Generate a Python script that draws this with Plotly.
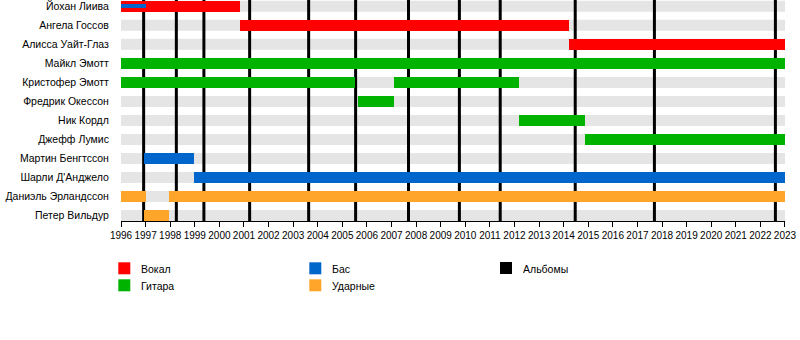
import plotly.graph_objects as go

# ---- data ----
members = ["Йохан Лиива", "Ангела Госсов", "Алисса Уайт-Глаз", "Майкл Эмотт",
           "Кристофер Эмотт", "Фредрик Окессон", "Ник Кордл", "Джефф Лумис",
           "Мартин Бенгтссон", "Шарли Д'Анджело", "Даниэль Эрландссон", "Петер Вильдур"]

roles = ["Вокал", "Гитара", "Бас", "Ударные"]
role_colors = ["#ff0000", "#00b300", "#0066cc", "#ffa52a"]

seg_member = ["Йохан Лиива", "Ангела Госсов", "Алисса Уайт-Глаз", "Майкл Эмотт",
              "Кристофер Эмотт", "Кристофер Эмотт", "Фредрик Окессон", "Ник Кордл",
              "Джефф Лумис", "Мартин Бенгтссон", "Шарли Д'Анджело",
              "Даниэль Эрландссон", "Даниэль Эрландссон", "Петер Вильдур"]
seg_role = ["Вокал", "Вокал", "Вокал", "Гитара",
            "Гитара", "Гитара", "Гитара", "Гитара",
            "Гитара", "Бас", "Бас",
            "Ударные", "Ударные", "Ударные"]
seg_start = [1996.0, 2000.85, 2014.22, 1996.0,
             1996.0, 2007.11, 2005.65, 2012.19,
             2014.87, 1996.95, 1998.98,
             1996.0, 1997.96, 1996.95]
seg_end = [2000.85, 2014.22, 2023.0, 2023.0,
           2005.52, 2012.19, 2007.11, 2014.87,
           2023.0, 1998.98, 2023.0,
           1997.0, 2023.0, 1997.96]

# secondary (thin) bars
thin_member = ["Йохан Лиива"]
thin_role = ["Бас"]
thin_start = [1996.0]
thin_end = [1997.0]

album_dates = [1996.92, 1998.25, 1999.37, 2001.23, 2003.63, 2005.54,
               2007.69, 2009.76, 2011.42, 2014.47, 2017.69, 2022.61]
album_label = "Альбомы"

year_start, year_end = 1996, 2023
tick_years = list(range(year_start, year_end + 1))

# ---- figure ----
FONT = "Liberation Sans, Arial, sans-serif"
row_of = {m: i for i, m in enumerate(members)}
bar_w = 0.578
thin_w = 0.21
row_px0, row_step, plot_h = 6.3, 19.02, 221
y_bottom = (plot_h - row_px0) / row_step
y_top = -row_px0 / row_step

fig = go.Figure()

for role, col in zip(roles, role_colors):
    idx = [k for k, r in enumerate(seg_role) if r == role]
    if idx:
        fig.add_trace(go.Bar(
            y=[row_of[seg_member[k]] for k in idx],
            x=[seg_end[k] - seg_start[k] for k in idx],
            base=[seg_start[k] for k in idx],
            orientation="h", width=bar_w,
            marker=dict(color=col, line=dict(width=0)),
            name=role, showlegend=False))

for k in range(len(thin_member)):
    col = role_colors[roles.index(thin_role[k])]
    fig.add_trace(go.Bar(
        y=[row_of[thin_member[k]]], x=[thin_end[k] - thin_start[k]],
        base=[thin_start[k]], orientation="h", width=thin_w,
        marker=dict(color=col, line=dict(width=0)),
        name=thin_role[k], showlegend=False))

shapes = []
for i in range(len(members)):
    shapes.append(dict(type="rect", xref="x", yref="y", x0=year_start, x1=year_end,
                       y0=i - bar_w / 2, y1=i + bar_w / 2, fillcolor="#e5e5e5",
                       line=dict(width=0), layer="below"))
for d in album_dates:
    shapes.append(dict(type="line", xref="x", yref="y", x0=d, x1=d,
                       y0=y_top, y1=y_bottom,
                       line=dict(color="black", width=3), layer="below"))

# custom legend
legend_items = [(r, c) for r, c in zip(roles, role_colors)] + [(album_label, "#000000")]
legend_pos = [(118.3, 262.3), (118.3, 279.3), (309.3, 262.3), (309.3, 279.3), (500, 262)]
W, H = 800, 340
annotations = []
for (lab, col), (px, py) in zip(legend_items, legend_pos):
    shapes.append(dict(type="rect", xref="paper", yref="paper",
                       x0=(px - 121) / 664, x1=(px + 12 - 121) / 664,
                       y0=(221 - py) / 221, y1=(221 - py - 12) / 221,
                       fillcolor=col, line=dict(width=0)))
    annotations.append(dict(xref="paper", yref="paper", x=(px + 20.5 - 121) / 664,
                            y=(221 - py - 6.5) / 221, text=lab, showarrow=False,
                            xanchor="left", yanchor="middle",
                            font=dict(size=10.5, color="black", family=FONT)))

fig.update_layout(
    width=W, height=H,
    margin=dict(l=121, r=15, t=0, b=H - plot_h, pad=0),
    plot_bgcolor="white", paper_bgcolor="white",
    barmode="overlay", bargap=0,
    shapes=shapes, annotations=annotations,
    showlegend=False,
    xaxis=dict(range=[year_start - 0.0005, year_end + 0.0005], tickvals=tick_years,
               ticktext=[str(y) for y in tick_years], tickangle=0,
               showgrid=False, zeroline=False,
               showline=True, linecolor="black", linewidth=1,
               ticks="outside", ticklen=5, tickcolor="black", tickwidth=1,
               ticklabeloverflow="allow",
               tickfont=dict(size=10, color="black", family=FONT), fixedrange=True),
    yaxis=dict(range=[y_bottom, y_top],
               tickvals=list(range(len(members))), ticktext=members,
               showgrid=False, zeroline=False, showline=False,
               ticks="outside", ticklen=9, tickcolor="rgba(0,0,0,0)",
               ticklabeloverflow="allow",
               tickfont=dict(size=10.5, color="black", family=FONT), fixedrange=True),
)

fig.write_html("out.html")
